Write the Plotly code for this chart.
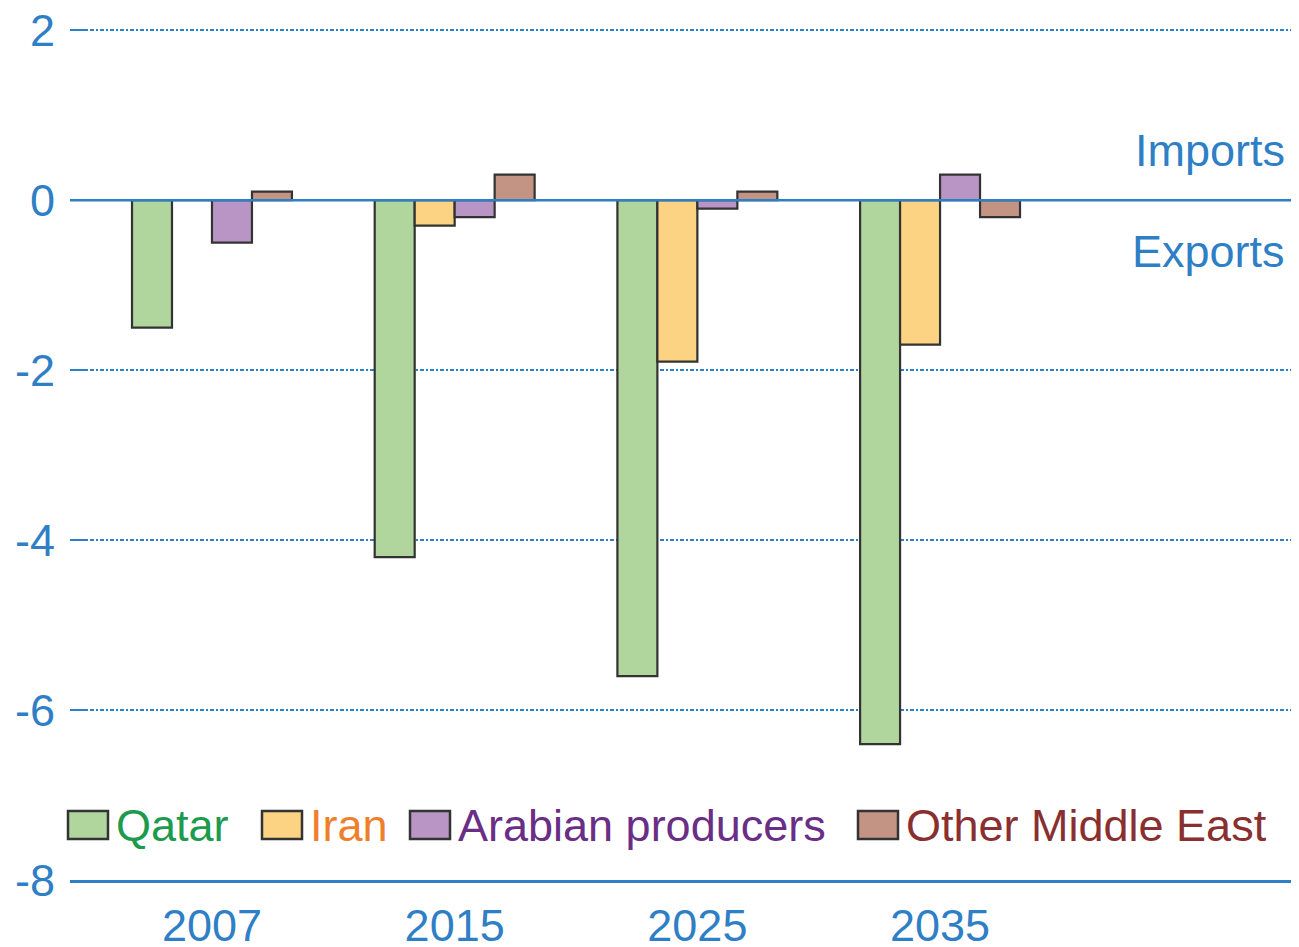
import plotly.graph_objects as go

years = ["2007", "2015", "2025", "2035"]
series_names = ["Qatar", "Iran", "Arabian producers", "Other Middle East"]
qatar = [-1.5, -4.2, -5.6, -6.4]
iran = [0.0, -0.3, -1.9, -1.7]
arabian = [-0.5, -0.2, -0.1, 0.3]
other_me = [0.1, 0.3, 0.1, -0.2]
y_ticks = [2, 0, -2, -4, -6, -8]
y_tick_labels = ["2", "0", "-2", "-4", "-6", "-8"]

values = [qatar, iran, arabian, other_me]
fills = ["#b0d69e", "#fcd383", "#b995c6", "#c39484"]
text_colors = ["#1c9a4e", "#ee7f2d", "#6a2e86", "#8a2f2f"]
BLUE = "#2f7fc6"
FONT = "Liberation Sans, Arial, sans-serif"

fig = go.Figure()
xs = list(range(len(years)))
for name, vals, fc in zip(series_names, values, fills):
    fig.add_trace(go.Bar(
        x=xs, y=vals, name=name, marker=dict(color=fc, line=dict(color="#333333", width=2.2)),
        showlegend=False,
    ))

OFF = 8  # page body margin
W, H = 1299 - OFF, 947 - OFF
L, R, T, B = 70 - OFF, 0, 26 - OFF, 67
pw = W - L - R
ph = H - T - B

def px2paper(px, py):
    # px, py in screen pixels
    fx, fy = px - OFF, py - OFF
    return (fx - L) / pw, (H - B - fy) / ph

shapes = []
annotations = []
shapes.append(dict(type="line", xref="paper", yref="y", x0=0, x1=1, y0=0, y1=0,
                   line=dict(color=BLUE, width=2.5), layer="above"))

sw_x = [68, 262, 410, 858]
for i, name in enumerate(series_names):
    x0, y0 = px2paper(sw_x[i], 811)
    x1, y1 = px2paper(sw_x[i] + 40, 839)
    shapes.append(dict(type="rect", xref="paper", yref="paper", x0=x0, x1=x1, y0=y1, y1=y0,
                       fillcolor=fills[i], line=dict(color="#333333", width=2.5), layer="above"))
    tx, ty = px2paper(sw_x[i] + 46, 825)
    annotations.append(dict(xref="paper", yref="paper", x=tx, y=ty, text=name, showarrow=False,
                            xanchor="left", yanchor="middle",
                            font=dict(family=FONT, size=45, color=text_colors[i])))

for txt, py in [("Imports", 150), ("Exports", 252)]:
    tx, ty = px2paper(1287, py)
    annotations.append(dict(xref="paper", yref="paper", x=tx, y=ty, text=txt, showarrow=False,
                            xanchor="right", yanchor="middle",
                            font=dict(family=FONT, size=45, color=BLUE)))

fig.update_layout(
    width=W, height=H,
    margin=dict(l=L, r=R, t=T, b=B, autoexpand=False),
    paper_bgcolor="white", plot_bgcolor="white",
    barmode="group", bargap=0.341, bargroupgap=0,
    shapes=shapes, annotations=annotations,
    font=dict(family=FONT, size=45, color=BLUE),
    xaxis=dict(
        range=[-0.585, 4.479], tickmode="array", tickvals=xs, ticktext=years,
        showgrid=False, zeroline=False, automargin=False,
        showline=True, linecolor=BLUE, linewidth=2.5,
        ticks="outside", ticklen=4, tickcolor="rgba(0,0,0,0)",
        ticklabeloverflow="allow",
        tickfont=dict(family=FONT, size=45, color=BLUE),
    ),
    yaxis=dict(
        range=[-8, 2.05], tickmode="array", tickvals=y_ticks, ticktext=y_tick_labels,
        showgrid=True, gridcolor=BLUE, gridwidth=1.8, griddash="4px,2px,2px,2px",
        zeroline=False, showline=False, automargin=False,
        ticks="inside", ticklen=18, tickwidth=2, tickcolor=BLUE,
        ticklabelstandoff=14, ticklabeloverflow="allow",
        tickfont=dict(family=FONT, size=45, color=BLUE),
    ),
)

fig.write_html("out.html")
